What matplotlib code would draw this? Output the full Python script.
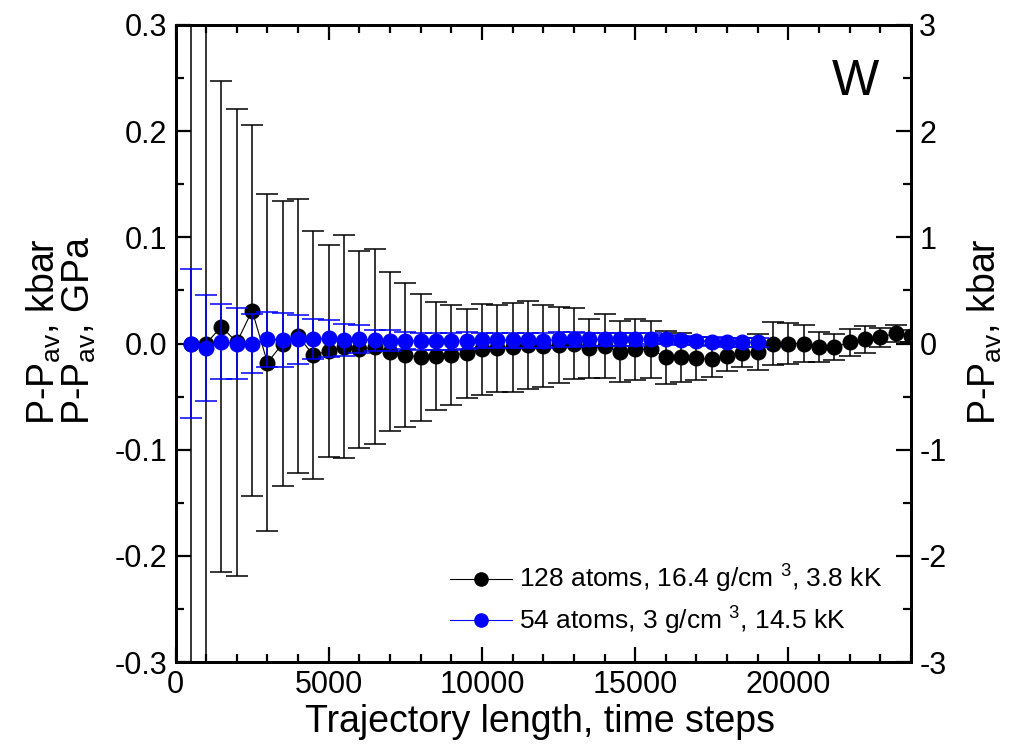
import numpy as np
import matplotlib
matplotlib.use("Agg")
import matplotlib.pyplot as plt
from matplotlib.ticker import MultipleLocator
from matplotlib.lines import Line2D

plt.rcParams['font.family'] = ['Liberation Sans', 'DejaVu Sans']
plt.rcParams['mathtext.fontset'] = 'custom'
plt.rcParams['mathtext.rm'] = 'Liberation Sans'
plt.rcParams['mathtext.it'] = 'Liberation Sans:italic'
plt.rcParams['mathtext.bf'] = 'Liberation Sans:bold'
plt.rcParams['axes.unicode_minus'] = False

# ---- data ----
x_black = list(range(500, 24001, 500))
y_black = [0.0, 0.0, 0.016, 0.001, 0.031, -0.018, 0.0, 0.007, -0.011, -0.007,
           -0.003, -0.0055, -0.003, -0.0077, -0.011, -0.013, -0.012, -0.0105, -0.0093, -0.0055,
           -0.0046, -0.0036, -0.0014, -0.0024, -0.0014, 0.0, -0.0046, -0.0024, -0.0077, -0.0055,
           -0.0055, -0.013, -0.013, -0.014, -0.015, -0.0115, -0.0086, -0.0077, 0.0, 0.0,
           0.0, -0.003, -0.0035, 0.001, 0.004, 0.006, 0.0096, 0.007]
e_black = [0.6, 0.6, 0.231, 0.220, 0.175, 0.159, 0.134, 0.129, 0.117, 0.100,
           0.105, 0.093, 0.092, 0.075, 0.068, 0.060, 0.051, 0.047, 0.042, 0.043,
           0.041, 0.042, 0.041, 0.039, 0.036, 0.033, 0.028, 0.030, 0.029, 0.029,
           0.027, 0.025, 0.023, 0.020, 0.017, 0.014, 0.014, 0.017, 0.020, 0.019,
           0.0175, 0.014, 0.012, 0.013, 0.0125, 0.009, 0.008, 0.006]

x_blue = list(range(500, 19001, 500))
y_blue = [0.0, -0.0045, 0.0017, 0.0, 0.0, 0.004, 0.0033, 0.004, 0.004, 0.005,
          0.0033, 0.004, 0.003, 0.0027, 0.0027, 0.002, 0.002, 0.002, 0.0025, 0.003,
          0.003, 0.003, 0.003, 0.0025, 0.004, 0.004, 0.004, 0.004, 0.004, 0.004,
          0.0045, 0.004, 0.003, 0.0024, 0.0017, 0.001, 0.001, 0.001]
e_blue = [0.070, 0.050, 0.0355, 0.033, 0.028, 0.026, 0.025, 0.023, 0.019, 0.0175,
          0.015, 0.013, 0.010, 0.010, 0.008, 0.008, 0.008, 0.008, 0.008, 0.007,
          0.007, 0.007, 0.007, 0.007, 0.007, 0.007, 0.006, 0.006, 0.006, 0.006,
          0.005, 0.004, 0.004, 0.004, 0.004, 0.004, 0.004, 0.004]

label_black = "128 atoms, 16.4 g/cm $^{3}$, 3.8 kK"
label_blue = "54 atoms, 3 g/cm $^{3}$, 14.5 kK"
left_ticks = [-0.3, -0.2, -0.1, 0.0, 0.1, 0.2, 0.3]
left_ticklabels = ['-0.3', '-0.2', '-0.1', '0.0', '0.1', '0.2', '0.3']

W, H = 1011, 749

# ---- figure ----
fig = plt.figure(figsize=(W / 100, H / 100), dpi=100)
ax = fig.add_axes([175.5 / W, 1 - 662 / H, (911 - 175.5) / W, (662 - 25) / H])

ax.errorbar(x_black, y_black, yerr=e_black, color='black', ecolor='black',
            marker='o', markersize=10.5, linewidth=0.8, elinewidth=1.1,
            capsize=8, capthick=1.1, zorder=2)
ax.errorbar(x_blue, y_blue, yerr=e_blue, color='blue', ecolor='blue',
            marker='o', markersize=10.5, linewidth=0.8, elinewidth=1.1,
            capsize=8, capthick=1.1, zorder=3)

ax.set_xlim(0, 24000)
ax.set_ylim(-0.3, 0.3)
ax.xaxis.set_major_locator(MultipleLocator(5000))
ax.xaxis.set_minor_locator(MultipleLocator(1000))
ax.set_yticks(left_ticks)
ax.set_yticklabels(left_ticklabels)
ax.yaxis.set_minor_locator(MultipleLocator(0.05))
ax.tick_params(which='both', direction='in', top=True, right=False,
               labelsize=22, width=1.6)
ax.tick_params(which='major', length=11, pad=6)
ax.tick_params(which='minor', length=6)
for s in ax.spines.values():
    s.set_linewidth(2)

ax2 = ax.twinx()
ax2.set_ylim(-3, 3)
ax2.yaxis.set_major_locator(MultipleLocator(1))
ax2.yaxis.set_minor_locator(MultipleLocator(0.5))
ax2.tick_params(which='both', direction='in', labelsize=22, width=1.6)
ax2.tick_params(which='major', length=11, pad=6)
ax2.tick_params(which='minor', length=6)
for s in ax2.spines.values():
    s.set_linewidth(2)

# axis titles
lab_kbar = "P-P$_{\\mathrm{av}}$, kbar"
lab_gpa = "P-P$_{\\mathrm{av}}$, GPa"
fig.text(44 / W, 1 - 425 / H, lab_kbar, rotation=90, fontsize=27,
         ha='center', va='bottom')
fig.text(79 / W, 1 - 425 / H, lab_gpa, rotation=90, fontsize=27,
         ha='center', va='bottom')
fig.text(985 / W, 1 - 425 / H, lab_kbar, rotation=90, fontsize=27,
         ha='center', va='bottom')
fig.text(540 / W, 1 - 722 / H, "Trajectory length, time steps", fontsize=27,
         ha='center', va='center')

fig.text(855 / W, 1 - 82 / H, "W", fontsize=36, ha='center', va='center')

handles = [Line2D([], [], color='black', marker='o', markersize=9.5, linewidth=0.8),
           Line2D([], [], color='blue', marker='o', markersize=9.5, linewidth=0.8)]
leg = fig.legend(handles, [label_black, label_blue], loc='upper left',
                 bbox_to_anchor=(450 / W, 1 - 563 / H), frameon=False,
                 fontsize=19, handlelength=2.35, handletextpad=0.25,
                 labelspacing=0.35, borderpad=0, borderaxespad=0)

fig.savefig("out.png", dpi=100)
